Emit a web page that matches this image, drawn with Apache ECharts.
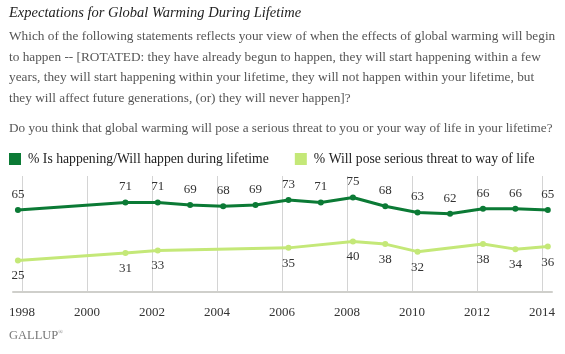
<!DOCTYPE html>
<html>
<head>
<meta charset="utf-8">
<script src="https://cdn.jsdelivr.net/npm/echarts@6/dist/echarts.min.js"></script>
<style>
  html, body { margin: 0; padding: 0; background: #fff; }
  #chart { width: 565px; height: 354px; }
</style>
</head>
<body>
<div id="chart"></div>
<script>
// survey dates (Gallup polls, mostly March)
var dates = ['1997-11-15', '2001-03-08', '2002-03-06', '2003-03-05', '2004-03-10', '2005-03-09',
  '2006-03-15', '2007-03-13', '2008-03-08', '2009-03-07', '2010-03-05', '2011-03-05',
  '2012-03-09', '2013-03-09', '2014-03-08'];
var happening = [65, 71, 71, 69, 68, 69, 73, 71, 75, 68, 63, 62, 66, 66, 65];

var threatDates = ['1997-11-15', '2001-03-08', '2002-03-06', '2006-03-15', '2008-03-08',
  '2009-03-07', '2010-03-05', '2012-03-09', '2013-03-09', '2014-03-08'];
var threat = [25, 31, 33, 35, 40, 38, 32, 38, 34, 36];

var tickYears = [1998, 2000, 2002, 2004, 2006, 2008, 2010, 2012, 2014];

var seriesNames = ['% Is happening/Will happen during lifetime', '% Will pose serious threat to way of life'];
var darkGreen = '#0b7a35';
var lightGreen = '#c4e878';
var serif = 'Liberation Serif';

// date string -> fractional year
function toYear(s) {
  var p = s.split('-');
  var y = +p[0];
  var start = Date.UTC(y, 0, 1), end = Date.UTC(y + 1, 0, 1);
  return y + (Date.UTC(y, +p[1] - 1, +p[2]) - start) / (end - start);
}

var chart = echarts.init(document.getElementById('chart'));

var subLines = [
  'Which of the following statements reflects your view of when the effects of global warming will begin',
  'to happen -- [ROTATED: they have already begun to happen, they will start happening within a few',
  'years, they will start happening within your lifetime, they will not happen within your lifetime, but',
  'they will affect future generations, (or) they will never happen]?'
];

var graphics = [{
  type: 'text', left: 9, top: 6,
  style: { text: 'Expectations for Global Warming During Lifetime', font: 'italic 14.5px ' + serif, fill: '#222' }
}];
subLines.forEach(function (line, i) {
  graphics.push({
    type: 'text', left: 9, top: 30 + i * 20.7,
    style: { text: line, font: '13.3px ' + serif, fill: '#555' }
  });
});
graphics.push({
  type: 'text', left: 9, top: 122,
  style: { text: 'Do you think that global warming will pose a serious threat to you or your way of life in your lifetime?', font: '13.2px ' + serif, fill: '#555' }
});
graphics.push({
  type: 'text', left: 9, top: 329,
  style: {
    text: '{a|GALLUP}{b|®}',
    rich: {
      a: { font: '12.5px ' + serif, fill: '#777' },
      b: { font: '6px ' + serif, fill: '#777', verticalAlign: 'top' }
    }
  }
});

var option = {
  animation: false,
  graphic: graphics,
  legend: {
    left: 9, top: 152, padding: 0,
    itemWidth: 12, itemHeight: 12, itemGap: 26,
    icon: 'rect',
    textStyle: { fontFamily: serif, fontSize: 13.7, color: '#222', padding: [0, 0, 0, 2] },
    data: seriesNames
  },
  grid: { left: 13, right: 13, top: 176, bottom: 62 },
  xAxis: {
    type: 'value',
    min: 1997.72,
    max: 2014.31,
    axisLine: { lineStyle: { color: '#cfcfcb', width: 2 } },
    axisTick: { show: false, customValues: tickYears },
    splitLine: { show: true, lineStyle: { color: '#d4d4d4', width: 1 } },
    axisLabel: {
      customValues: tickYears,
      margin: 14,
      fontFamily: serif, fontSize: 13, color: '#333',
      formatter: function (v) { return String(v); }
    }
  },
  yAxis: {
    type: 'value', min: 0, max: 92,
    show: false,
    splitLine: { show: false }
  },
  series: [{
    name: seriesNames[0],
    type: 'line',
    data: dates.map(function (d, i) { return [toYear(d), happening[i]]; }),
    color: darkGreen,
    lineStyle: { width: 3 },
    symbol: 'circle', symbolSize: 6,
    label: { show: true, position: 'top', distance: 6, fontFamily: serif, fontSize: 13, color: '#333' }
  }, {
    name: seriesNames[1],
    type: 'line',
    data: threatDates.map(function (d, i) { return [toYear(d), threat[i]]; }),
    color: lightGreen,
    lineStyle: { width: 3 },
    symbol: 'circle', symbolSize: 6,
    label: { show: true, position: 'bottom', distance: 6, fontFamily: serif, fontSize: 13, color: '#333' }
  }]
};

chart.setOption(option);
</script>
</body>
</html>
